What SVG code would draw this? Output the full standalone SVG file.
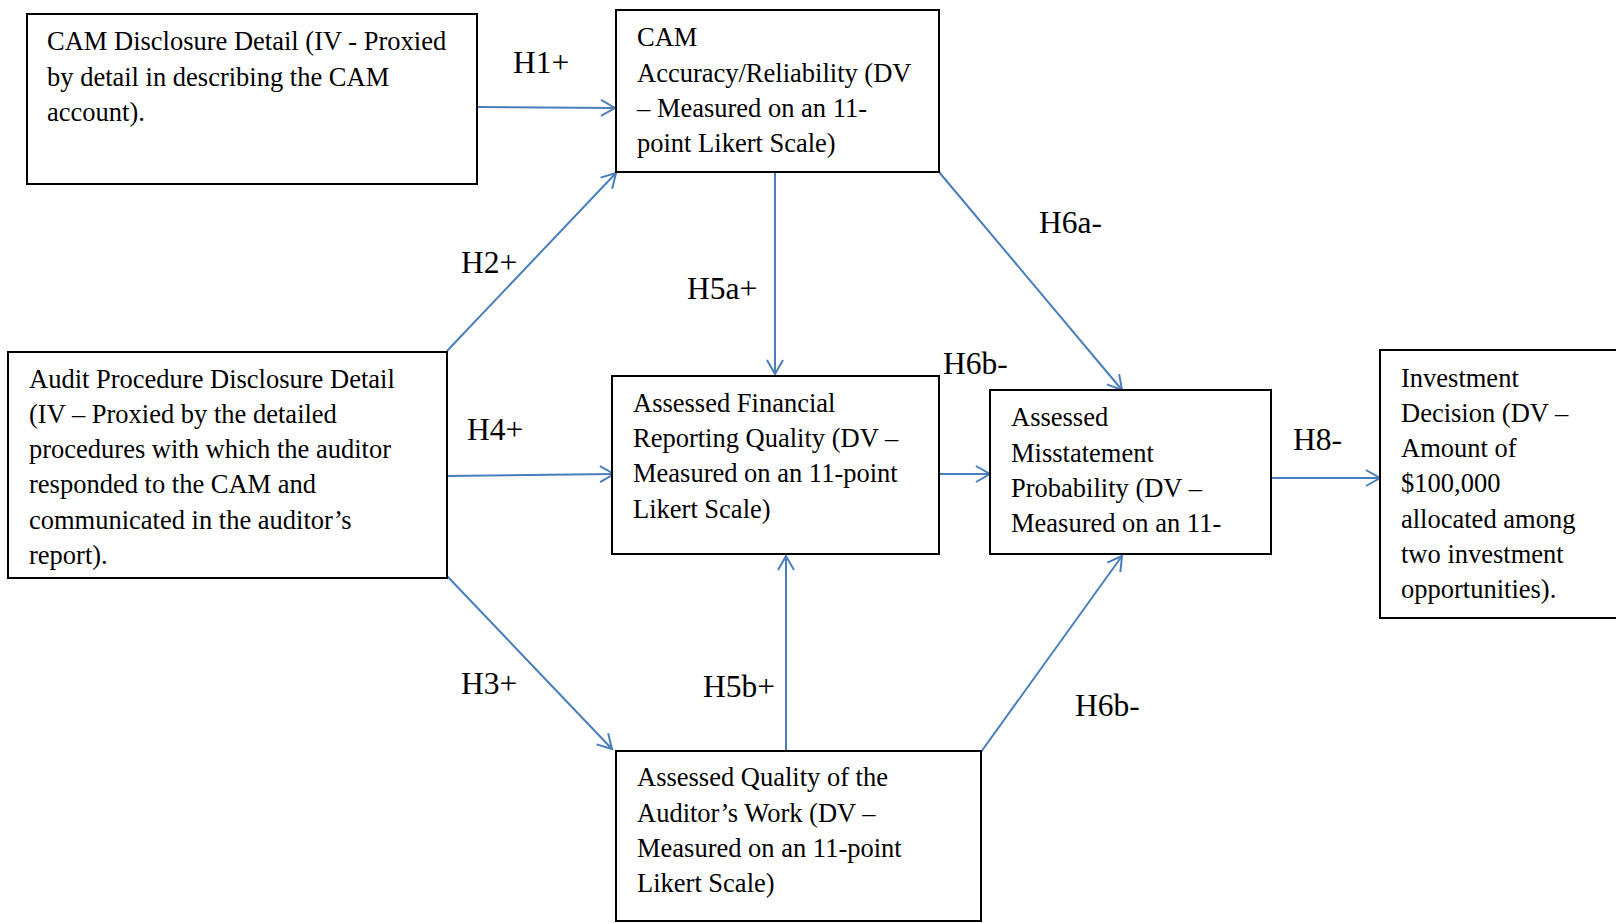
<svg xmlns="http://www.w3.org/2000/svg" width="1616" height="923" viewBox="0 0 1616 923">
<defs>
<style>
.box{fill:#fff;stroke:#000;stroke-width:2}
.t{font-family:"Liberation Serif","Times New Roman",serif;font-size:26.5px;fill:#000}
.lbl{font-family:"Liberation Serif","Times New Roman",serif;font-size:31.5px;fill:#000}
.c{stroke:#4a7ebb;stroke-width:2;fill:none;marker-end:url(#ah)}
</style>
<marker id="ah" markerUnits="userSpaceOnUse" markerWidth="20" markerHeight="20" viewBox="0 0 20 20" refX="17" refY="10" orient="auto">
<path d="M3,2 L17,10 L3,18" fill="none" stroke="#4a7ebb" stroke-width="2"/>
</marker>
</defs>
<rect width="1616" height="923" fill="#fff"/>
<g id="connectors">
<line class="c" x1="477" y1="107" x2="615" y2="108"/>
<line class="c" x1="447" y1="351" x2="616" y2="173"/>
<line class="c" x1="775" y1="172" x2="775" y2="374"/>
<line class="c" x1="939" y1="172" x2="1122" y2="390"/>
<line class="c" x1="447" y1="476" x2="614" y2="474"/>
<line class="c" x1="939" y1="474" x2="990" y2="474"/>
<line class="c" x1="1271" y1="478" x2="1380" y2="478"/>
<line class="c" x1="447" y1="576" x2="612" y2="749"/>
<line class="c" x1="786" y1="750" x2="786" y2="556"/>
<line class="c" x1="981" y1="752" x2="1122" y2="556"/>
</g>
<g id="labels">
<text class="lbl" x="513" y="73">H1+</text>
<text class="lbl" x="461" y="273">H2+</text>
<text class="lbl" x="687" y="299">H5a+</text>
<text class="lbl" x="1039" y="233">H6a-</text>
<text class="lbl" x="943" y="374">H6b-</text>
<text class="lbl" x="467" y="440">H4+</text>
<text class="lbl" x="1293" y="450">H8-</text>
<text class="lbl" x="461" y="694">H3+</text>
<text class="lbl" x="703" y="697">H5b+</text>
<text class="lbl" x="1075" y="716">H6b-</text>
</g>
<g id="cam-disclosure">
<rect class="box" x="27" y="14" width="450" height="170"/>
<text class="t" x="47" y="50">CAM Disclosure Detail (IV - Proxied</text>
<text class="t" x="47" y="86">by detail in describing the CAM</text>
<text class="t" x="47" y="121">account).</text>
</g>
<g id="cam-accuracy">
<rect class="box" x="616" y="10" width="323" height="162"/>
<text class="t" x="637" y="46">CAM</text>
<text class="t" x="637" y="82">Accuracy/Reliability (DV</text>
<text class="t" x="637" y="117">– Measured on an 11-</text>
<text class="t" x="637" y="152">point Likert Scale)</text>
</g>
<g id="audit-procedure">
<rect class="box" x="8" y="352" width="439" height="226"/>
<text class="t" x="29" y="388">Audit Procedure Disclosure Detail</text>
<text class="t" x="29" y="423">(IV – Proxied by the detailed</text>
<text class="t" x="29" y="458">procedures with which the auditor</text>
<text class="t" x="29" y="493">responded to the CAM and</text>
<text class="t" x="29" y="529">communicated in the auditor’s</text>
<text class="t" x="29" y="564">report).</text>
</g>
<g id="financial-reporting">
<rect class="box" x="612" y="376" width="327" height="178"/>
<text class="t" x="633" y="412">Assessed Financial</text>
<text class="t" x="633" y="447">Reporting Quality (DV –</text>
<text class="t" x="633" y="482">Measured on an 11-point</text>
<text class="t" x="633" y="518">Likert Scale)</text>
</g>
<g id="misstatement">
<rect class="box" x="990" y="390" width="281" height="164"/>
<text class="t" x="1011" y="426">Assessed</text>
<text class="t" x="1011" y="462">Misstatement</text>
<text class="t" x="1011" y="497">Probability (DV –</text>
<text class="t" x="1011" y="532">Measured on an 11-</text>
</g>
<g id="investment">
<rect class="box" x="1380" y="350" width="238" height="268"/>
<text class="t" x="1401" y="387">Investment</text>
<text class="t" x="1401" y="422">Decision (DV –</text>
<text class="t" x="1401" y="457">Amount of</text>
<text class="t" x="1401" y="492">$100,000</text>
<text class="t" x="1401" y="528">allocated among</text>
<text class="t" x="1401" y="563">two investment</text>
<text class="t" x="1401" y="598">opportunities).</text>
</g>
<g id="auditor-work">
<rect class="box" x="616" y="751" width="365" height="170"/>
<text class="t" x="637" y="786">Assessed Quality of the</text>
<text class="t" x="637" y="822">Auditor’s Work (DV –</text>
<text class="t" x="637" y="857">Measured on an 11-point</text>
<text class="t" x="637" y="892">Likert Scale)</text>
</g>
</svg>
